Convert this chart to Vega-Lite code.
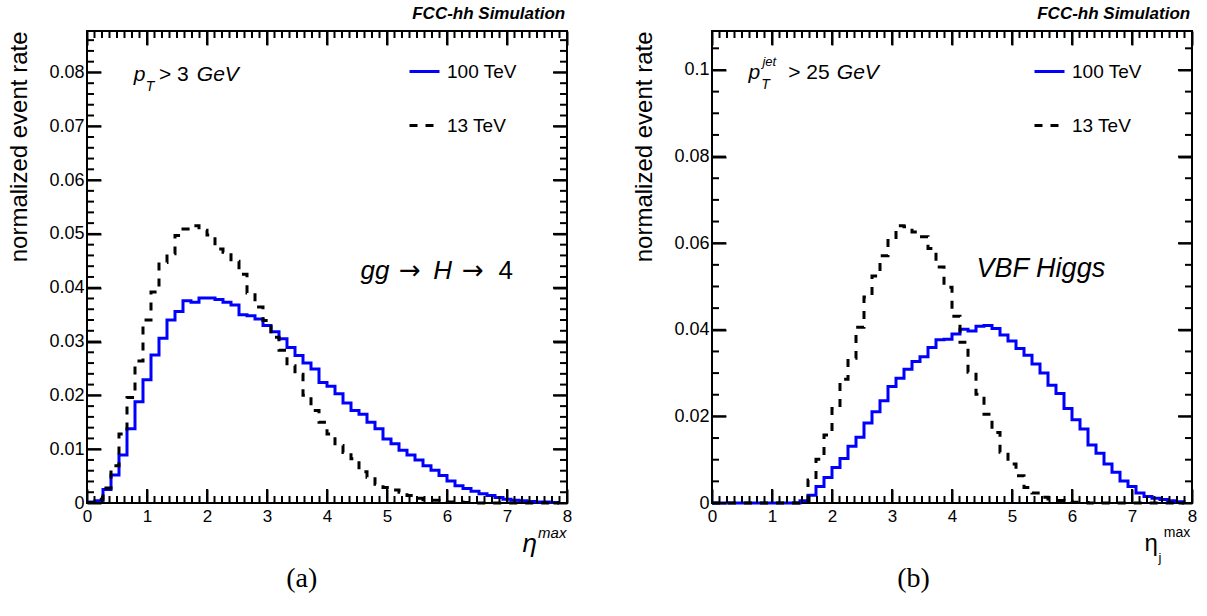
{
  "$schema": "https://vega.github.io/schema/vega-lite/v6.json",
  "background": "white",
  "padding": {"left": 6, "top": 3, "right": 0, "bottom": 0},
  "bounds": "flush",
  "spacing": 145,
  "config": {
    "font": "Liberation Sans",
    "view": {"stroke": "black", "strokeWidth": 2},
    "axis": {"grid": false, "domain": false, "ticks": true, "zindex": 1, "labelFont": "Liberation Sans", "labelFontSize": 17, "labelColor": "black", "tickColor": "#000000", "tickOpacity": 1, "tickWidth": 2, "titleFont": "Liberation Sans", "titleFontWeight": "normal", "titleColor": "black", "labelFlush": false, "labelOverlap": false}
  },
  "resolve": {"scale": {"x": "independent", "y": "independent", "color": "independent", "strokeDash": "independent"}},
  "datasets": {
    "xmaj": [{"t":0},{"t":1},{"t":2},{"t":3},{"t":4},{"t":5},{"t":6},{"t":7},{"t":8}],
    "xmin": [{"t":0.125},{"t":0.25},{"t":0.375},{"t":0.5},{"t":0.625},{"t":0.75},{"t":0.875},{"t":1.125},{"t":1.25},{"t":1.375},{"t":1.5},{"t":1.625},{"t":1.75},{"t":1.875},{"t":2.125},{"t":2.25},{"t":2.375},{"t":2.5},{"t":2.625},{"t":2.75},{"t":2.875},{"t":3.125},{"t":3.25},{"t":3.375},{"t":3.5},{"t":3.625},{"t":3.75},{"t":3.875},{"t":4.125},{"t":4.25},{"t":4.375},{"t":4.5},{"t":4.625},{"t":4.75},{"t":4.875},{"t":5.125},{"t":5.25},{"t":5.375},{"t":5.5},{"t":5.625},{"t":5.75},{"t":5.875},{"t":6.125},{"t":6.25},{"t":6.375},{"t":6.5},{"t":6.625},{"t":6.75},{"t":6.875},{"t":7.125},{"t":7.25},{"t":7.375},{"t":7.5},{"t":7.625},{"t":7.75},{"t":7.875}],
    "yamaj": [{"t":0},{"t":0.01},{"t":0.02},{"t":0.03},{"t":0.04},{"t":0.05},{"t":0.06},{"t":0.07},{"t":0.08}],
    "yamin": [{"t":0.002},{"t":0.004},{"t":0.006},{"t":0.008},{"t":0.012},{"t":0.014},{"t":0.016},{"t":0.018},{"t":0.022},{"t":0.024},{"t":0.026},{"t":0.028},{"t":0.032},{"t":0.034},{"t":0.036},{"t":0.038},{"t":0.042},{"t":0.044},{"t":0.046},{"t":0.048},{"t":0.052},{"t":0.054},{"t":0.056},{"t":0.058},{"t":0.062},{"t":0.064},{"t":0.066},{"t":0.068},{"t":0.072},{"t":0.074},{"t":0.076},{"t":0.078},{"t":0.082},{"t":0.084},{"t":0.086}],
    "ybmaj": [{"t":0},{"t":0.02},{"t":0.04},{"t":0.06},{"t":0.08},{"t":0.1}],
    "ybmin": [{"t":0.005},{"t":0.01},{"t":0.015},{"t":0.025},{"t":0.03},{"t":0.035},{"t":0.045},{"t":0.05},{"t":0.055},{"t":0.065},{"t":0.07},{"t":0.075},{"t":0.085},{"t":0.09},{"t":0.095},{"t":0.105}],
    "a": [
      {"eta":0,"rate":0.0002,"E":"100 TeV"},{"eta":0.1333,"rate":0.0004,"E":"100 TeV"},{"eta":0.2667,"rate":0.0025,"E":"100 TeV"},{"eta":0.4,"rate":0.0052,"E":"100 TeV"},{"eta":0.5333,"rate":0.0089,"E":"100 TeV"},{"eta":0.6667,"rate":0.0138,"E":"100 TeV"},{"eta":0.8,"rate":0.0188,"E":"100 TeV"},{"eta":0.9333,"rate":0.0229,"E":"100 TeV"},{"eta":1.0667,"rate":0.0275,"E":"100 TeV"},{"eta":1.2,"rate":0.0306,"E":"100 TeV"},
      {"eta":1.3333,"rate":0.034,"E":"100 TeV"},{"eta":1.4667,"rate":0.0356,"E":"100 TeV"},{"eta":1.6,"rate":0.0376,"E":"100 TeV"},{"eta":1.7333,"rate":0.0373,"E":"100 TeV"},{"eta":1.8667,"rate":0.0381,"E":"100 TeV"},{"eta":2,"rate":0.0381,"E":"100 TeV"},{"eta":2.1333,"rate":0.0378,"E":"100 TeV"},{"eta":2.2667,"rate":0.0373,"E":"100 TeV"},{"eta":2.4,"rate":0.0368,"E":"100 TeV"},{"eta":2.5333,"rate":0.035,"E":"100 TeV"},
      {"eta":2.6667,"rate":0.0348,"E":"100 TeV"},{"eta":2.8,"rate":0.0342,"E":"100 TeV"},{"eta":2.9333,"rate":0.033,"E":"100 TeV"},{"eta":3.0667,"rate":0.0318,"E":"100 TeV"},{"eta":3.2,"rate":0.0305,"E":"100 TeV"},{"eta":3.3333,"rate":0.0289,"E":"100 TeV"},{"eta":3.4667,"rate":0.0274,"E":"100 TeV"},{"eta":3.6,"rate":0.026,"E":"100 TeV"},{"eta":3.7333,"rate":0.0249,"E":"100 TeV"},{"eta":3.8667,"rate":0.0224,"E":"100 TeV"},
      {"eta":4,"rate":0.0217,"E":"100 TeV"},{"eta":4.1333,"rate":0.0203,"E":"100 TeV"},{"eta":4.2667,"rate":0.0186,"E":"100 TeV"},{"eta":4.4,"rate":0.0172,"E":"100 TeV"},{"eta":4.5333,"rate":0.0165,"E":"100 TeV"},{"eta":4.6667,"rate":0.015,"E":"100 TeV"},{"eta":4.8,"rate":0.0138,"E":"100 TeV"},{"eta":4.9333,"rate":0.0119,"E":"100 TeV"},{"eta":5.0667,"rate":0.011,"E":"100 TeV"},{"eta":5.2,"rate":0.0098,"E":"100 TeV"},
      {"eta":5.3333,"rate":0.0089,"E":"100 TeV"},{"eta":5.4667,"rate":0.008,"E":"100 TeV"},{"eta":5.6,"rate":0.0069,"E":"100 TeV"},{"eta":5.7333,"rate":0.0061,"E":"100 TeV"},{"eta":5.8667,"rate":0.0051,"E":"100 TeV"},{"eta":6,"rate":0.0041,"E":"100 TeV"},{"eta":6.1333,"rate":0.0032,"E":"100 TeV"},{"eta":6.2667,"rate":0.0027,"E":"100 TeV"},{"eta":6.4,"rate":0.0022,"E":"100 TeV"},{"eta":6.5333,"rate":0.0017,"E":"100 TeV"},
      {"eta":6.6667,"rate":0.0014,"E":"100 TeV"},{"eta":6.8,"rate":0.001,"E":"100 TeV"},{"eta":6.9333,"rate":0.0007,"E":"100 TeV"},{"eta":7.0667,"rate":0.0005,"E":"100 TeV"},{"eta":7.2,"rate":0.0004,"E":"100 TeV"},{"eta":7.3333,"rate":0.0003,"E":"100 TeV"},{"eta":7.4667,"rate":0.0002,"E":"100 TeV"},{"eta":7.6,"rate":0.0002,"E":"100 TeV"},{"eta":7.7333,"rate":0.0001,"E":"100 TeV"},{"eta":7.8667,"rate":0.0001,"E":"100 TeV"},
      {"eta":0,"rate":0.0001,"E":"13 TeV"},{"eta":0.1333,"rate":0.0007,"E":"13 TeV"},{"eta":0.2667,"rate":0.0028,"E":"13 TeV"},{"eta":0.4,"rate":0.0069,"E":"13 TeV"},{"eta":0.5333,"rate":0.0128,"E":"13 TeV"},{"eta":0.6667,"rate":0.0196,"E":"13 TeV"},{"eta":0.8,"rate":0.0264,"E":"13 TeV"},{"eta":0.9333,"rate":0.034,"E":"13 TeV"},{"eta":1.0667,"rate":0.0392,"E":"13 TeV"},{"eta":1.2,"rate":0.0447,"E":"13 TeV"},
      {"eta":1.3333,"rate":0.0463,"E":"13 TeV"},{"eta":1.4667,"rate":0.0497,"E":"13 TeV"},{"eta":1.6,"rate":0.0509,"E":"13 TeV"},{"eta":1.7333,"rate":0.0515,"E":"13 TeV"},{"eta":1.8667,"rate":0.0507,"E":"13 TeV"},{"eta":2,"rate":0.0498,"E":"13 TeV"},{"eta":2.1333,"rate":0.0472,"E":"13 TeV"},{"eta":2.2667,"rate":0.0466,"E":"13 TeV"},{"eta":2.4,"rate":0.0449,"E":"13 TeV"},{"eta":2.5333,"rate":0.0425,"E":"13 TeV"},
      {"eta":2.6667,"rate":0.039,"E":"13 TeV"},{"eta":2.8,"rate":0.0364,"E":"13 TeV"},{"eta":2.9333,"rate":0.0339,"E":"13 TeV"},{"eta":3.0667,"rate":0.0308,"E":"13 TeV"},{"eta":3.2,"rate":0.0284,"E":"13 TeV"},{"eta":3.3333,"rate":0.0255,"E":"13 TeV"},{"eta":3.4667,"rate":0.0239,"E":"13 TeV"},{"eta":3.6,"rate":0.02,"E":"13 TeV"},{"eta":3.7333,"rate":0.0172,"E":"13 TeV"},{"eta":3.8667,"rate":0.015,"E":"13 TeV"},
      {"eta":4,"rate":0.0128,"E":"13 TeV"},{"eta":4.1333,"rate":0.0107,"E":"13 TeV"},{"eta":4.2667,"rate":0.0094,"E":"13 TeV"},{"eta":4.4,"rate":0.0082,"E":"13 TeV"},{"eta":4.5333,"rate":0.0058,"E":"13 TeV"},{"eta":4.6667,"rate":0.0048,"E":"13 TeV"},{"eta":4.8,"rate":0.0035,"E":"13 TeV"},{"eta":4.9333,"rate":0.0029,"E":"13 TeV"},{"eta":5.0667,"rate":0.0024,"E":"13 TeV"},{"eta":5.2,"rate":0.002,"E":"13 TeV"},
      {"eta":5.3333,"rate":0.0014,"E":"13 TeV"},{"eta":5.4667,"rate":0.0009,"E":"13 TeV"},{"eta":5.6,"rate":0.0006,"E":"13 TeV"},{"eta":5.7333,"rate":0.0005,"E":"13 TeV"},{"eta":5.8667,"rate":0.0003,"E":"13 TeV"},{"eta":6,"rate":0.0002,"E":"13 TeV"},{"eta":6.1333,"rate":0.0002,"E":"13 TeV"},{"eta":6.2667,"rate":0.0001,"E":"13 TeV"},{"eta":6.4,"rate":0,"E":"13 TeV"},{"eta":6.5333,"rate":0,"E":"13 TeV"},
      {"eta":6.6667,"rate":0,"E":"13 TeV"},{"eta":6.8,"rate":0,"E":"13 TeV"},{"eta":6.9333,"rate":0,"E":"13 TeV"},{"eta":7.0667,"rate":0,"E":"13 TeV"},{"eta":7.2,"rate":0,"E":"13 TeV"},{"eta":7.3333,"rate":0,"E":"13 TeV"},{"eta":7.4667,"rate":0,"E":"13 TeV"},{"eta":7.6,"rate":0,"E":"13 TeV"},{"eta":7.7333,"rate":0,"E":"13 TeV"},{"eta":7.8667,"rate":0,"E":"13 TeV"}
    ],
    "b": [
      {"eta":0,"rate":0,"E":"100 TeV"},{"eta":0.1333,"rate":0,"E":"100 TeV"},{"eta":0.2667,"rate":0,"E":"100 TeV"},{"eta":0.4,"rate":0,"E":"100 TeV"},{"eta":0.5333,"rate":0,"E":"100 TeV"},{"eta":0.6667,"rate":0,"E":"100 TeV"},{"eta":0.8,"rate":0,"E":"100 TeV"},{"eta":0.9333,"rate":0,"E":"100 TeV"},{"eta":1.0667,"rate":0,"E":"100 TeV"},{"eta":1.2,"rate":0,"E":"100 TeV"},
      {"eta":1.3333,"rate":0,"E":"100 TeV"},{"eta":1.4667,"rate":0.0005,"E":"100 TeV"},{"eta":1.6,"rate":0.0018,"E":"100 TeV"},{"eta":1.7333,"rate":0.0038,"E":"100 TeV"},{"eta":1.8667,"rate":0.0059,"E":"100 TeV"},{"eta":2,"rate":0.0082,"E":"100 TeV"},{"eta":2.1333,"rate":0.0103,"E":"100 TeV"},{"eta":2.2667,"rate":0.0131,"E":"100 TeV"},{"eta":2.4,"rate":0.0152,"E":"100 TeV"},{"eta":2.5333,"rate":0.0185,"E":"100 TeV"},
      {"eta":2.6667,"rate":0.0211,"E":"100 TeV"},{"eta":2.8,"rate":0.0236,"E":"100 TeV"},{"eta":2.9333,"rate":0.0269,"E":"100 TeV"},{"eta":3.0667,"rate":0.0288,"E":"100 TeV"},{"eta":3.2,"rate":0.0309,"E":"100 TeV"},{"eta":3.3333,"rate":0.0327,"E":"100 TeV"},{"eta":3.4667,"rate":0.0338,"E":"100 TeV"},{"eta":3.6,"rate":0.0359,"E":"100 TeV"},{"eta":3.7333,"rate":0.0377,"E":"100 TeV"},{"eta":3.8667,"rate":0.0378,"E":"100 TeV"},
      {"eta":4,"rate":0.039,"E":"100 TeV"},{"eta":4.1333,"rate":0.0401,"E":"100 TeV"},{"eta":4.2667,"rate":0.0397,"E":"100 TeV"},{"eta":4.4,"rate":0.0408,"E":"100 TeV"},{"eta":4.5333,"rate":0.041,"E":"100 TeV"},{"eta":4.6667,"rate":0.0403,"E":"100 TeV"},{"eta":4.8,"rate":0.0388,"E":"100 TeV"},{"eta":4.9333,"rate":0.0374,"E":"100 TeV"},{"eta":5.0667,"rate":0.0357,"E":"100 TeV"},{"eta":5.2,"rate":0.0341,"E":"100 TeV"},
      {"eta":5.3333,"rate":0.0321,"E":"100 TeV"},{"eta":5.4667,"rate":0.03,"E":"100 TeV"},{"eta":5.6,"rate":0.0272,"E":"100 TeV"},{"eta":5.7333,"rate":0.0253,"E":"100 TeV"},{"eta":5.8667,"rate":0.0218,"E":"100 TeV"},{"eta":6,"rate":0.0192,"E":"100 TeV"},{"eta":6.1333,"rate":0.0171,"E":"100 TeV"},{"eta":6.2667,"rate":0.0134,"E":"100 TeV"},{"eta":6.4,"rate":0.0115,"E":"100 TeV"},{"eta":6.5333,"rate":0.009,"E":"100 TeV"},
      {"eta":6.6667,"rate":0.0071,"E":"100 TeV"},{"eta":6.8,"rate":0.0051,"E":"100 TeV"},{"eta":6.9333,"rate":0.0038,"E":"100 TeV"},{"eta":7.0667,"rate":0.0023,"E":"100 TeV"},{"eta":7.2,"rate":0.0015,"E":"100 TeV"},{"eta":7.3333,"rate":0.0011,"E":"100 TeV"},{"eta":7.4667,"rate":0.0008,"E":"100 TeV"},{"eta":7.6,"rate":0.0005,"E":"100 TeV"},{"eta":7.7333,"rate":0.0003,"E":"100 TeV"},{"eta":7.8667,"rate":0.0002,"E":"100 TeV"},
      {"eta":0,"rate":0,"E":"13 TeV"},{"eta":0.1333,"rate":0,"E":"13 TeV"},{"eta":0.2667,"rate":0,"E":"13 TeV"},{"eta":0.4,"rate":0,"E":"13 TeV"},{"eta":0.5333,"rate":0,"E":"13 TeV"},{"eta":0.6667,"rate":0,"E":"13 TeV"},{"eta":0.8,"rate":0,"E":"13 TeV"},{"eta":0.9333,"rate":0,"E":"13 TeV"},{"eta":1.0667,"rate":0,"E":"13 TeV"},{"eta":1.2,"rate":0,"E":"13 TeV"},
      {"eta":1.3333,"rate":0,"E":"13 TeV"},{"eta":1.4667,"rate":0.0003,"E":"13 TeV"},{"eta":1.6,"rate":0.0053,"E":"13 TeV"},{"eta":1.7333,"rate":0.0101,"E":"13 TeV"},{"eta":1.8667,"rate":0.0157,"E":"13 TeV"},{"eta":2,"rate":0.0218,"E":"13 TeV"},{"eta":2.1333,"rate":0.0286,"E":"13 TeV"},{"eta":2.2667,"rate":0.0334,"E":"13 TeV"},{"eta":2.4,"rate":0.0406,"E":"13 TeV"},{"eta":2.5333,"rate":0.0476,"E":"13 TeV"},
      {"eta":2.6667,"rate":0.0524,"E":"13 TeV"},{"eta":2.8,"rate":0.0571,"E":"13 TeV"},{"eta":2.9333,"rate":0.0613,"E":"13 TeV"},{"eta":3.0667,"rate":0.064,"E":"13 TeV"},{"eta":3.2,"rate":0.0638,"E":"13 TeV"},{"eta":3.3333,"rate":0.0626,"E":"13 TeV"},{"eta":3.4667,"rate":0.0615,"E":"13 TeV"},{"eta":3.6,"rate":0.0588,"E":"13 TeV"},{"eta":3.7333,"rate":0.0545,"E":"13 TeV"},{"eta":3.8667,"rate":0.0498,"E":"13 TeV"},
      {"eta":4,"rate":0.0431,"E":"13 TeV"},{"eta":4.1333,"rate":0.0371,"E":"13 TeV"},{"eta":4.2667,"rate":0.0302,"E":"13 TeV"},{"eta":4.4,"rate":0.0251,"E":"13 TeV"},{"eta":4.5333,"rate":0.0205,"E":"13 TeV"},{"eta":4.6667,"rate":0.0163,"E":"13 TeV"},{"eta":4.8,"rate":0.0117,"E":"13 TeV"},{"eta":4.9333,"rate":0.009,"E":"13 TeV"},{"eta":5.0667,"rate":0.0063,"E":"13 TeV"},{"eta":5.2,"rate":0.0036,"E":"13 TeV"},
      {"eta":5.3333,"rate":0.0023,"E":"13 TeV"},{"eta":5.4667,"rate":0.0013,"E":"13 TeV"},{"eta":5.6,"rate":0.0009,"E":"13 TeV"},{"eta":5.7333,"rate":0.0006,"E":"13 TeV"},{"eta":5.8667,"rate":0.0004,"E":"13 TeV"},{"eta":6,"rate":0.0002,"E":"13 TeV"},{"eta":6.1333,"rate":0.0001,"E":"13 TeV"},{"eta":6.2667,"rate":0,"E":"13 TeV"},{"eta":6.4,"rate":0,"E":"13 TeV"},{"eta":6.5333,"rate":0,"E":"13 TeV"},
      {"eta":6.6667,"rate":0,"E":"13 TeV"},{"eta":6.8,"rate":0,"E":"13 TeV"},{"eta":6.9333,"rate":0,"E":"13 TeV"},{"eta":7.0667,"rate":0,"E":"13 TeV"},{"eta":7.2,"rate":0,"E":"13 TeV"},{"eta":7.3333,"rate":0,"E":"13 TeV"},{"eta":7.4667,"rate":0,"E":"13 TeV"},{"eta":7.6,"rate":0,"E":"13 TeV"},{"eta":7.7333,"rate":0,"E":"13 TeV"},{"eta":7.8667,"rate":0,"E":"13 TeV"}
    ]
  },
  "hconcat": [
    {
      "width": 480, "height": 472,
      "resolve": {"axis": {"x": "independent", "y": "independent"}},
      "layer": [
        {
          "data": {"name": "a"},
          "mark": {"type": "line", "interpolate": "step-after", "strokeWidth": 3},
          "encoding": {
            "x": {"field": "eta", "type": "quantitative", "scale": {"domain": [0, 8], "nice": false}, "axis": {"orient": "bottom", "values": [0,1,2,3,4,5,6,7,8], "tickSize": 14, "offset": -14, "labelPadding": 5, "format": "d", "title": null}},
            "y": {"field": "rate", "type": "quantitative", "scale": {"domain": [0, 0.0877], "nice": false}, "axis": {"orient": "left", "values": [0,0.01,0.02,0.03,0.04,0.05,0.06,0.07,0.08], "tickSize": 14, "offset": -14, "labelPadding": 3, "labelFontSize": 18, "format": ".2~f", "title": "normalized event rate", "titleAnchor": "end", "titleFontSize": 24, "titlePadding": 17}},
            "color": {"field": "E", "type": "nominal", "scale": {"domain": ["100 TeV", "13 TeV"], "range": ["#0000ff", "#000000"]}, "legend": {"orient": "none", "legendX": 321, "legendY": 24, "title": null, "symbolType": "stroke", "symbolSize": 900, "symbolStrokeWidth": 3, "labelFontSize": 19, "labelOffset": 6, "rowPadding": 27, "padding": 0, "labelFont": "Liberation Sans", "labelColor": "black"}},
            "strokeDash": {"field": "E", "type": "nominal", "scale": {"domain": ["100 TeV", "13 TeV"], "range": [[1, 0], [8, 8]]}, "legend": {"orient": "none", "legendX": 321, "legendY": 24, "title": null, "symbolType": "stroke", "symbolSize": 900, "symbolStrokeWidth": 3, "labelFontSize": 19, "labelOffset": 6, "rowPadding": 27, "padding": 0, "labelFont": "Liberation Sans", "labelColor": "black"}}
          }
        },
        {
          "data": {"name": "a"},
          "mark": {"type": "point", "opacity": 0},
          "encoding": {
            "x": {"field": "eta", "type": "quantitative", "scale": {"domain": [0, 8], "nice": false}, "axis": {"orient": "top", "values": [0,1,2,3,4,5,6,7,8], "tickSize": 14, "offset": -14, "labels": false, "title": null}},
            "y": {"field": "rate", "type": "quantitative", "scale": {"domain": [0, 0.0877], "nice": false}, "axis": {"orient": "right", "values": [0,0.01,0.02,0.03,0.04,0.05,0.06,0.07,0.08], "tickSize": 14, "offset": -14, "labels": false, "title": null}}
          }
        },
        {"data": {"name": "xmaj"}, "mark": {"type": "rule", "strokeWidth": 2, "color": "black"}, "encoding": {"x": {"field": "t", "type": "quantitative", "scale": {"domain": [0, 8], "nice": false}, "axis": null}, "y": {"datum": 0, "type": "quantitative", "scale": {"domain": [0, 0.0877], "nice": false}, "axis": null}, "y2": {"datum": 0.0026}}},
        {"data": {"name": "xmaj"}, "mark": {"type": "rule", "strokeWidth": 2, "color": "black"}, "encoding": {"x": {"field": "t", "type": "quantitative", "scale": {"domain": [0, 8], "nice": false}, "axis": null}, "y": {"datum": 0.0851, "type": "quantitative", "scale": {"domain": [0, 0.0877], "nice": false}, "axis": null}, "y2": {"datum": 0.0877}}},
        {"data": {"name": "xmin"}, "mark": {"type": "rule", "strokeWidth": 2, "color": "black"}, "encoding": {"x": {"field": "t", "type": "quantitative", "scale": {"domain": [0, 8], "nice": false}, "axis": null}, "y": {"datum": 0, "type": "quantitative", "scale": {"domain": [0, 0.0877], "nice": false}, "axis": null}, "y2": {"datum": 0.0013}}},
        {"data": {"name": "xmin"}, "mark": {"type": "rule", "strokeWidth": 2, "color": "black"}, "encoding": {"x": {"field": "t", "type": "quantitative", "scale": {"domain": [0, 8], "nice": false}, "axis": null}, "y": {"datum": 0.0864, "type": "quantitative", "scale": {"domain": [0, 0.0877], "nice": false}, "axis": null}, "y2": {"datum": 0.0877}}},
        {"data": {"name": "yamaj"}, "mark": {"type": "rule", "strokeWidth": 2, "color": "black"}, "encoding": {"y": {"field": "t", "type": "quantitative", "scale": {"domain": [0, 0.0877], "nice": false}, "axis": null}, "x": {"datum": 0, "type": "quantitative", "scale": {"domain": [0, 8], "nice": false}, "axis": null}, "x2": {"datum": 0.2333}}},
        {"data": {"name": "yamaj"}, "mark": {"type": "rule", "strokeWidth": 2, "color": "black"}, "encoding": {"y": {"field": "t", "type": "quantitative", "scale": {"domain": [0, 0.0877], "nice": false}, "axis": null}, "x": {"datum": 7.7667, "type": "quantitative", "scale": {"domain": [0, 8], "nice": false}, "axis": null}, "x2": {"datum": 8}}},
        {"data": {"name": "yamin"}, "mark": {"type": "rule", "strokeWidth": 2, "color": "black"}, "encoding": {"y": {"field": "t", "type": "quantitative", "scale": {"domain": [0, 0.0877], "nice": false}, "axis": null}, "x": {"datum": 0, "type": "quantitative", "scale": {"domain": [0, 8], "nice": false}, "axis": null}, "x2": {"datum": 0.1167}}},
        {"data": {"name": "yamin"}, "mark": {"type": "rule", "strokeWidth": 2, "color": "black"}, "encoding": {"y": {"field": "t", "type": "quantitative", "scale": {"domain": [0, 0.0877], "nice": false}, "axis": null}, "x": {"datum": 7.8833, "type": "quantitative", "scale": {"domain": [0, 8], "nice": false}, "axis": null}, "x2": {"datum": 8}}},
        {"data": {"values": [{}]}, "mark": {"type": "text", "text": "FCC-hh Simulation", "fontStyle": "italic", "fontWeight": "bold", "fontSize": 17, "align": "right", "baseline": "alphabetic"}, "encoding": {"x": {"datum": 7.97, "type": "quantitative", "scale": {"domain": [0, 8], "nice": false}, "axis": null}, "y": {"datum": 0.09, "type": "quantitative", "scale": {"domain": [0, 0.0877], "nice": false}, "axis": null}}},
        {"data": {"values": [{}]}, "mark": {"type": "text", "text": "p", "fontStyle": "italic", "fontSize": 21, "align": "left", "baseline": "alphabetic"}, "encoding": {"x": {"datum": 0.78, "type": "quantitative", "scale": {"domain": [0, 8], "nice": false}, "axis": null}, "y": {"datum": 0.0784, "type": "quantitative", "scale": {"domain": [0, 0.0877], "nice": false}, "axis": null}}},
        {"data": {"values": [{}]}, "mark": {"type": "text", "text": "T", "fontStyle": "italic", "fontSize": 14, "align": "left", "baseline": "alphabetic"}, "encoding": {"x": {"datum": 0.98, "type": "quantitative", "scale": {"domain": [0, 8], "nice": false}, "axis": null}, "y": {"datum": 0.0766, "type": "quantitative", "scale": {"domain": [0, 0.0877], "nice": false}, "axis": null}}},
        {"data": {"values": [{}]}, "mark": {"type": "text", "text": "> 3", "fontSize": 21, "align": "left", "baseline": "alphabetic"}, "encoding": {"x": {"datum": 1.2, "type": "quantitative", "scale": {"domain": [0, 8], "nice": false}, "axis": null}, "y": {"datum": 0.0784, "type": "quantitative", "scale": {"domain": [0, 0.0877], "nice": false}, "axis": null}}},
        {"data": {"values": [{}]}, "mark": {"type": "text", "text": "GeV", "fontStyle": "italic", "fontSize": 21, "align": "left", "baseline": "alphabetic"}, "encoding": {"x": {"datum": 1.83, "type": "quantitative", "scale": {"domain": [0, 8], "nice": false}, "axis": null}, "y": {"datum": 0.0784, "type": "quantitative", "scale": {"domain": [0, 0.0877], "nice": false}, "axis": null}}},
        {"data": {"values": [{}]}, "mark": {"type": "text", "text": "gg", "fontStyle": "italic", "fontSize": 26, "align": "left", "baseline": "alphabetic"}, "encoding": {"x": {"datum": 4.56, "type": "quantitative", "scale": {"domain": [0, 8], "nice": false}, "axis": null}, "y": {"datum": 0.0416, "type": "quantitative", "scale": {"domain": [0, 0.0877], "nice": false}, "axis": null}}},
        {"data": {"values": [{}]}, "mark": {"type": "text", "text": "→", "font": "DejaVu Sans", "fontSize": 26, "align": "left", "baseline": "alphabetic"}, "encoding": {"x": {"datum": 5.2, "type": "quantitative", "scale": {"domain": [0, 8], "nice": false}, "axis": null}, "y": {"datum": 0.0416, "type": "quantitative", "scale": {"domain": [0, 0.0877], "nice": false}, "axis": null}}},
        {"data": {"values": [{}]}, "mark": {"type": "text", "text": "H", "fontStyle": "italic", "fontSize": 26, "align": "left", "baseline": "alphabetic"}, "encoding": {"x": {"datum": 5.77, "type": "quantitative", "scale": {"domain": [0, 8], "nice": false}, "axis": null}, "y": {"datum": 0.0416, "type": "quantitative", "scale": {"domain": [0, 0.0877], "nice": false}, "axis": null}}},
        {"data": {"values": [{}]}, "mark": {"type": "text", "text": "→", "font": "DejaVu Sans", "fontSize": 26, "align": "left", "baseline": "alphabetic"}, "encoding": {"x": {"datum": 6.25, "type": "quantitative", "scale": {"domain": [0, 8], "nice": false}, "axis": null}, "y": {"datum": 0.0416, "type": "quantitative", "scale": {"domain": [0, 0.0877], "nice": false}, "axis": null}}},
        {"data": {"values": [{}]}, "mark": {"type": "text", "text": "4", "fontSize": 26, "align": "left", "baseline": "alphabetic"}, "encoding": {"x": {"datum": 6.86, "type": "quantitative", "scale": {"domain": [0, 8], "nice": false}, "axis": null}, "y": {"datum": 0.0416, "type": "quantitative", "scale": {"domain": [0, 0.0877], "nice": false}, "axis": null}}},
        {"data": {"values": [{}]}, "mark": {"type": "text", "text": "η", "fontStyle": "italic", "fontSize": 26, "align": "right", "baseline": "alphabetic"}, "encoding": {"x": {"datum": 7.5, "type": "quantitative", "scale": {"domain": [0, 8], "nice": false}, "axis": null}, "y": {"datum": -0.0091, "type": "quantitative", "scale": {"domain": [0, 0.0877], "nice": false}, "axis": null}}},
        {"data": {"values": [{}]}, "mark": {"type": "text", "text": "max", "fontStyle": "italic", "fontSize": 15, "align": "right", "baseline": "alphabetic"}, "encoding": {"x": {"datum": 7.99, "type": "quantitative", "scale": {"domain": [0, 8], "nice": false}, "axis": null}, "y": {"datum": -0.0065, "type": "quantitative", "scale": {"domain": [0, 0.0877], "nice": false}, "axis": null}}},
        {"data": {"values": [{}]}, "mark": {"type": "text", "text": "(a)", "font": "Liberation Serif", "fontSize": 28, "align": "center", "baseline": "middle"}, "encoding": {"x": {"datum": 3.58, "type": "quantitative", "scale": {"domain": [0, 8], "nice": false}, "axis": null}, "y": {"datum": -0.0141, "type": "quantitative", "scale": {"domain": [0, 0.0877], "nice": false}, "axis": null}}}
      ]
    },
    {
      "width": 480, "height": 472,
      "resolve": {"axis": {"x": "independent", "y": "independent"}},
      "layer": [
        {
          "data": {"name": "b"},
          "mark": {"type": "line", "interpolate": "step-after", "strokeWidth": 3},
          "encoding": {
            "x": {"field": "eta", "type": "quantitative", "scale": {"domain": [0, 8], "nice": false}, "axis": {"orient": "bottom", "values": [0,1,2,3,4,5,6,7,8], "tickSize": 14, "offset": -14, "labelPadding": 5, "format": "d", "title": null}},
            "y": {"field": "rate", "type": "quantitative", "scale": {"domain": [0, 0.109], "nice": false}, "axis": {"orient": "left", "values": [0,0.02,0.04,0.06,0.08,0.1], "tickSize": 14, "offset": -14, "labelPadding": 3, "labelFontSize": 18, "format": ".2~f", "title": "normalized event rate", "titleAnchor": "end", "titleFontSize": 24, "titlePadding": 17}},
            "color": {"field": "E", "type": "nominal", "scale": {"domain": ["100 TeV", "13 TeV"], "range": ["#0000ff", "#000000"]}, "legend": {"orient": "none", "legendX": 321, "legendY": 24, "title": null, "symbolType": "stroke", "symbolSize": 900, "symbolStrokeWidth": 3, "labelFontSize": 19, "labelOffset": 6, "rowPadding": 27, "padding": 0, "labelFont": "Liberation Sans", "labelColor": "black"}},
            "strokeDash": {"field": "E", "type": "nominal", "scale": {"domain": ["100 TeV", "13 TeV"], "range": [[1, 0], [8, 8]]}, "legend": {"orient": "none", "legendX": 321, "legendY": 24, "title": null, "symbolType": "stroke", "symbolSize": 900, "symbolStrokeWidth": 3, "labelFontSize": 19, "labelOffset": 6, "rowPadding": 27, "padding": 0, "labelFont": "Liberation Sans", "labelColor": "black"}}
          }
        },
        {
          "data": {"name": "b"},
          "mark": {"type": "point", "opacity": 0},
          "encoding": {
            "x": {"field": "eta", "type": "quantitative", "scale": {"domain": [0, 8], "nice": false}, "axis": {"orient": "top", "values": [0,1,2,3,4,5,6,7,8], "tickSize": 14, "offset": -14, "labels": false, "title": null}},
            "y": {"field": "rate", "type": "quantitative", "scale": {"domain": [0, 0.109], "nice": false}, "axis": {"orient": "right", "values": [0,0.02,0.04,0.06,0.08,0.1], "tickSize": 14, "offset": -14, "labels": false, "title": null}}
          }
        },
        {"data": {"name": "xmaj"}, "mark": {"type": "rule", "strokeWidth": 2, "color": "black"}, "encoding": {"x": {"field": "t", "type": "quantitative", "scale": {"domain": [0, 8], "nice": false}, "axis": null}, "y": {"datum": 0, "type": "quantitative", "scale": {"domain": [0, 0.109], "nice": false}, "axis": null}, "y2": {"datum": 0.00323}}},
        {"data": {"name": "xmaj"}, "mark": {"type": "rule", "strokeWidth": 2, "color": "black"}, "encoding": {"x": {"field": "t", "type": "quantitative", "scale": {"domain": [0, 8], "nice": false}, "axis": null}, "y": {"datum": 0.10577, "type": "quantitative", "scale": {"domain": [0, 0.109], "nice": false}, "axis": null}, "y2": {"datum": 0.109}}},
        {"data": {"name": "xmin"}, "mark": {"type": "rule", "strokeWidth": 2, "color": "black"}, "encoding": {"x": {"field": "t", "type": "quantitative", "scale": {"domain": [0, 8], "nice": false}, "axis": null}, "y": {"datum": 0, "type": "quantitative", "scale": {"domain": [0, 0.109], "nice": false}, "axis": null}, "y2": {"datum": 0.00162}}},
        {"data": {"name": "xmin"}, "mark": {"type": "rule", "strokeWidth": 2, "color": "black"}, "encoding": {"x": {"field": "t", "type": "quantitative", "scale": {"domain": [0, 8], "nice": false}, "axis": null}, "y": {"datum": 0.10738, "type": "quantitative", "scale": {"domain": [0, 0.109], "nice": false}, "axis": null}, "y2": {"datum": 0.109}}},
        {"data": {"name": "ybmaj"}, "mark": {"type": "rule", "strokeWidth": 2, "color": "black"}, "encoding": {"y": {"field": "t", "type": "quantitative", "scale": {"domain": [0, 0.109], "nice": false}, "axis": null}, "x": {"datum": 0, "type": "quantitative", "scale": {"domain": [0, 8], "nice": false}, "axis": null}, "x2": {"datum": 0.2333}}},
        {"data": {"name": "ybmaj"}, "mark": {"type": "rule", "strokeWidth": 2, "color": "black"}, "encoding": {"y": {"field": "t", "type": "quantitative", "scale": {"domain": [0, 0.109], "nice": false}, "axis": null}, "x": {"datum": 7.7667, "type": "quantitative", "scale": {"domain": [0, 8], "nice": false}, "axis": null}, "x2": {"datum": 8}}},
        {"data": {"name": "ybmin"}, "mark": {"type": "rule", "strokeWidth": 2, "color": "black"}, "encoding": {"y": {"field": "t", "type": "quantitative", "scale": {"domain": [0, 0.109], "nice": false}, "axis": null}, "x": {"datum": 0, "type": "quantitative", "scale": {"domain": [0, 8], "nice": false}, "axis": null}, "x2": {"datum": 0.1167}}},
        {"data": {"name": "ybmin"}, "mark": {"type": "rule", "strokeWidth": 2, "color": "black"}, "encoding": {"y": {"field": "t", "type": "quantitative", "scale": {"domain": [0, 0.109], "nice": false}, "axis": null}, "x": {"datum": 7.8833, "type": "quantitative", "scale": {"domain": [0, 8], "nice": false}, "axis": null}, "x2": {"datum": 8}}},
        {"data": {"values": [{}]}, "mark": {"type": "text", "text": "FCC-hh Simulation", "fontStyle": "italic", "fontWeight": "bold", "fontSize": 17, "align": "right", "baseline": "alphabetic"}, "encoding": {"x": {"datum": 7.97, "type": "quantitative", "scale": {"domain": [0, 8], "nice": false}, "axis": null}, "y": {"datum": 0.1117, "type": "quantitative", "scale": {"domain": [0, 0.109], "nice": false}, "axis": null}}},
        {"data": {"values": [{}]}, "mark": {"type": "text", "text": "p", "fontStyle": "italic", "fontSize": 21, "align": "left", "baseline": "alphabetic"}, "encoding": {"x": {"datum": 0.61, "type": "quantitative", "scale": {"domain": [0, 8], "nice": false}, "axis": null}, "y": {"datum": 0.0978, "type": "quantitative", "scale": {"domain": [0, 0.109], "nice": false}, "axis": null}}},
        {"data": {"values": [{}]}, "mark": {"type": "text", "text": "jet", "fontStyle": "italic", "fontSize": 13, "align": "left", "baseline": "alphabetic"}, "encoding": {"x": {"datum": 0.84, "type": "quantitative", "scale": {"domain": [0, 8], "nice": false}, "axis": null}, "y": {"datum": 0.101, "type": "quantitative", "scale": {"domain": [0, 0.109], "nice": false}, "axis": null}}},
        {"data": {"values": [{}]}, "mark": {"type": "text", "text": "T", "fontStyle": "italic", "fontSize": 14, "align": "left", "baseline": "alphabetic"}, "encoding": {"x": {"datum": 0.82, "type": "quantitative", "scale": {"domain": [0, 8], "nice": false}, "axis": null}, "y": {"datum": 0.0957, "type": "quantitative", "scale": {"domain": [0, 0.109], "nice": false}, "axis": null}}},
        {"data": {"values": [{}]}, "mark": {"type": "text", "text": "> 25", "fontSize": 21, "align": "left", "baseline": "alphabetic"}, "encoding": {"x": {"datum": 1.27, "type": "quantitative", "scale": {"domain": [0, 8], "nice": false}, "axis": null}, "y": {"datum": 0.0978, "type": "quantitative", "scale": {"domain": [0, 0.109], "nice": false}, "axis": null}}},
        {"data": {"values": [{}]}, "mark": {"type": "text", "text": "GeV", "fontStyle": "italic", "fontSize": 21, "align": "left", "baseline": "alphabetic"}, "encoding": {"x": {"datum": 2.08, "type": "quantitative", "scale": {"domain": [0, 8], "nice": false}, "axis": null}, "y": {"datum": 0.0978, "type": "quantitative", "scale": {"domain": [0, 0.109], "nice": false}, "axis": null}}},
        {"data": {"values": [{}]}, "mark": {"type": "text", "text": "VBF Higgs", "fontStyle": "italic", "fontSize": 27, "align": "left", "baseline": "alphabetic"}, "encoding": {"x": {"datum": 4.41, "type": "quantitative", "scale": {"domain": [0, 8], "nice": false}, "axis": null}, "y": {"datum": 0.0521, "type": "quantitative", "scale": {"domain": [0, 0.109], "nice": false}, "axis": null}}},
        {"data": {"values": [{}]}, "mark": {"type": "text", "text": "η", "fontSize": 24, "align": "right", "baseline": "alphabetic"}, "encoding": {"x": {"datum": 7.43, "type": "quantitative", "scale": {"domain": [0, 8], "nice": false}, "axis": null}, "y": {"datum": -0.0111, "type": "quantitative", "scale": {"domain": [0, 0.109], "nice": false}, "axis": null}}},
        {"data": {"values": [{}]}, "mark": {"type": "text", "text": "max", "fontSize": 14, "align": "right", "baseline": "alphabetic"}, "encoding": {"x": {"datum": 7.97, "type": "quantitative", "scale": {"domain": [0, 8], "nice": false}, "axis": null}, "y": {"datum": -0.0078, "type": "quantitative", "scale": {"domain": [0, 0.109], "nice": false}, "axis": null}}},
        {"data": {"values": [{}]}, "mark": {"type": "text", "text": "j", "fontSize": 13, "align": "left", "baseline": "alphabetic"}, "encoding": {"x": {"datum": 7.44, "type": "quantitative", "scale": {"domain": [0, 8], "nice": false}, "axis": null}, "y": {"datum": -0.0136, "type": "quantitative", "scale": {"domain": [0, 0.109], "nice": false}, "axis": null}}},
        {"data": {"values": [{}]}, "mark": {"type": "text", "text": "(b)", "font": "Liberation Serif", "fontSize": 28, "align": "center", "baseline": "middle"}, "encoding": {"x": {"datum": 3.36, "type": "quantitative", "scale": {"domain": [0, 8], "nice": false}, "axis": null}, "y": {"datum": -0.0175, "type": "quantitative", "scale": {"domain": [0, 0.109], "nice": false}, "axis": null}}}
      ]
    }
  ]
}
